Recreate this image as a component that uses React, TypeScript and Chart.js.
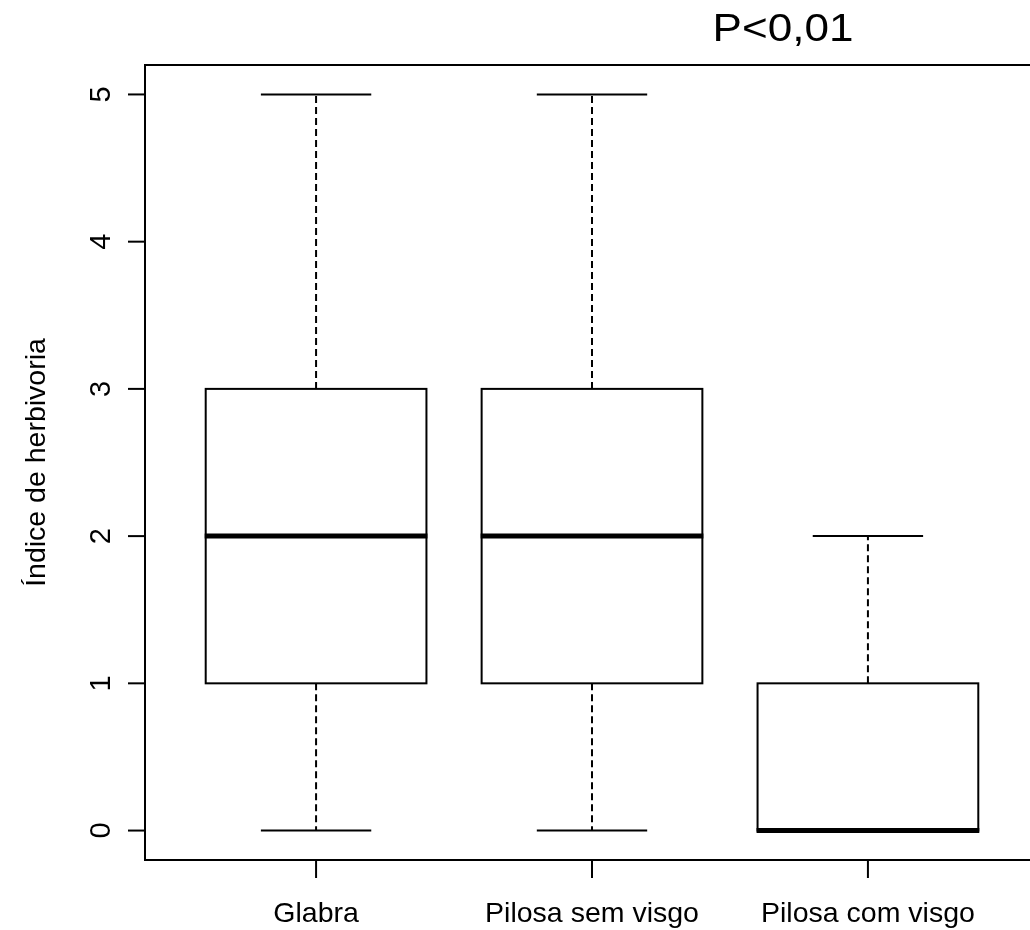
import React, { useEffect, useRef } from "react";
import { Chart, registerables } from "chart.js";

Chart.register(...registerables);

const categories = ["Glabra", "Pilosa sem visgo", "Pilosa com visgo"];
const positions = [1, 2, 3];
const whiskerLow = [0, 0, 0];
const quartile1 = [1, 1, 0];
const medians = [2, 2, 0];
const quartile3 = [3, 3, 1];
const whiskerHigh = [5, 5, 2];
const yTicks = [0, 1, 2, 3, 4, 5];
const yTitle = "Índice de herbivoria";
const annotation = "P<0,01";

const FONT = "'Liberation Sans', Arial, Helvetica, sans-serif";

const boxPlugin = {
  id: "rBoxplot",
  afterDraw(chart: any) {
    const ctx: CanvasRenderingContext2D = chart.ctx;
    const xs = chart.scales.x;
    const ys = chart.scales.y;
    const area = chart.chartArea;
    const unit = xs.getPixelForValue(1) - xs.getPixelForValue(0);
    const boxHalf = 0.4 * unit;
    const capHalf = 0.2 * unit;

    ctx.save();
    ctx.strokeStyle = "#000";
    ctx.fillStyle = "#000";
    ctx.lineCap = "butt";

    for (let i = 0; i < categories.length; i++) {
      const cx = xs.getPixelForValue(positions[i]);
      const yMin = ys.getPixelForValue(whiskerLow[i]);
      const yQ1 = ys.getPixelForValue(quartile1[i]);
      const yMed = ys.getPixelForValue(medians[i]);
      const yQ3 = ys.getPixelForValue(quartile3[i]);
      const yMax = ys.getPixelForValue(whiskerHigh[i]);

      ctx.lineWidth = 2;
      ctx.setLineDash([7, 4]);
      ctx.beginPath();
      if (yQ3 !== yMax) {
        ctx.moveTo(cx, yQ3);
        ctx.lineTo(cx, yMax);
      }
      if (yQ1 !== yMin) {
        ctx.moveTo(cx, yQ1);
        ctx.lineTo(cx, yMin);
      }
      ctx.stroke();
      ctx.setLineDash([]);

      ctx.beginPath();
      ctx.moveTo(cx - capHalf, yMax);
      ctx.lineTo(cx + capHalf, yMax);
      ctx.moveTo(cx - capHalf, yMin);
      ctx.lineTo(cx + capHalf, yMin);
      ctx.stroke();

      ctx.lineWidth = 2;
      ctx.strokeRect(cx - boxHalf, yQ3, 2 * boxHalf, yQ1 - yQ3);

      ctx.lineWidth = 5;
      ctx.beginPath();
      ctx.moveTo(cx - boxHalf - 1, yMed);
      ctx.lineTo(cx + boxHalf + 1, yMed);
      ctx.stroke();
    }

    ctx.lineWidth = 2;
    ctx.strokeRect(area.left, area.top, area.right - area.left, area.bottom - area.top);

    ctx.lineWidth = 2;
    ctx.textAlign = "center";
    ctx.textBaseline = "alphabetic";
    ctx.font = `29px ${FONT}`;
    for (const t of yTicks) {
      const py = ys.getPixelForValue(t);
      ctx.beginPath();
      ctx.moveTo(area.left - 17, py);
      ctx.lineTo(area.left, py);
      ctx.stroke();
      ctx.save();
      ctx.translate(110, py);
      ctx.rotate(-Math.PI / 2);
      ctx.fillText(String(t), 0, 0);
      ctx.restore();
    }

    ctx.font = `28.5px ${FONT}`;
    for (let i = 0; i < categories.length; i++) {
      const px = xs.getPixelForValue(positions[i]);
      ctx.beginPath();
      ctx.moveTo(px, area.bottom);
      ctx.lineTo(px, area.bottom + 18);
      ctx.stroke();
      ctx.fillText(categories[i], px, 922);
    }

    ctx.save();
    ctx.font = `28.5px ${FONT}`;
    ctx.translate(45, (area.top + area.bottom) / 2);
    ctx.rotate(-Math.PI / 2);
    ctx.fillText(yTitle, 0, 0);
    ctx.restore();

    ctx.save();
    ctx.font = `39px ${FONT}`;
    ctx.translate(783, 41);
    ctx.scale(1.13, 1);
    ctx.textAlign = "center";
    ctx.fillText(annotation, 0, 0);
    ctx.restore();

    ctx.restore();
  },
};

export default function App() {
  const ref = useRef<HTMLCanvasElement | null>(null);

  useEffect(() => {
    if (!ref.current) return;
    const chart = new Chart(ref.current, {
      type: "scatter",
      data: {
        datasets: [
          {
            label: "box",
            data: [],
          },
        ],
      },
      options: {
        responsive: false,
        animation: false,
        devicePixelRatio: 1,
        layout: { padding: { left: 145, top: 65, right: 21, bottom: 70 } },
        plugins: {
          legend: { display: false },
          tooltip: { enabled: false },
          title: { display: false },
        },
        scales: {
          x: { type: "linear", min: 0.38, max: 3.62, display: false },
          y: { type: "linear", min: -0.2, max: 5.2, display: false },
        },
      },
      plugins: [boxPlugin],
    });
    return () => chart.destroy();
  }, []);

  return (
    <div
      style={{
        position: "fixed",
        left: 0,
        top: 0,
        width: 1030,
        height: 930,
        overflow: "hidden",
        background: "#fff",
      }}
    >
      <canvas ref={ref} width={1060} height={930} style={{ display: "block" }} />
    </div>
  );
}
